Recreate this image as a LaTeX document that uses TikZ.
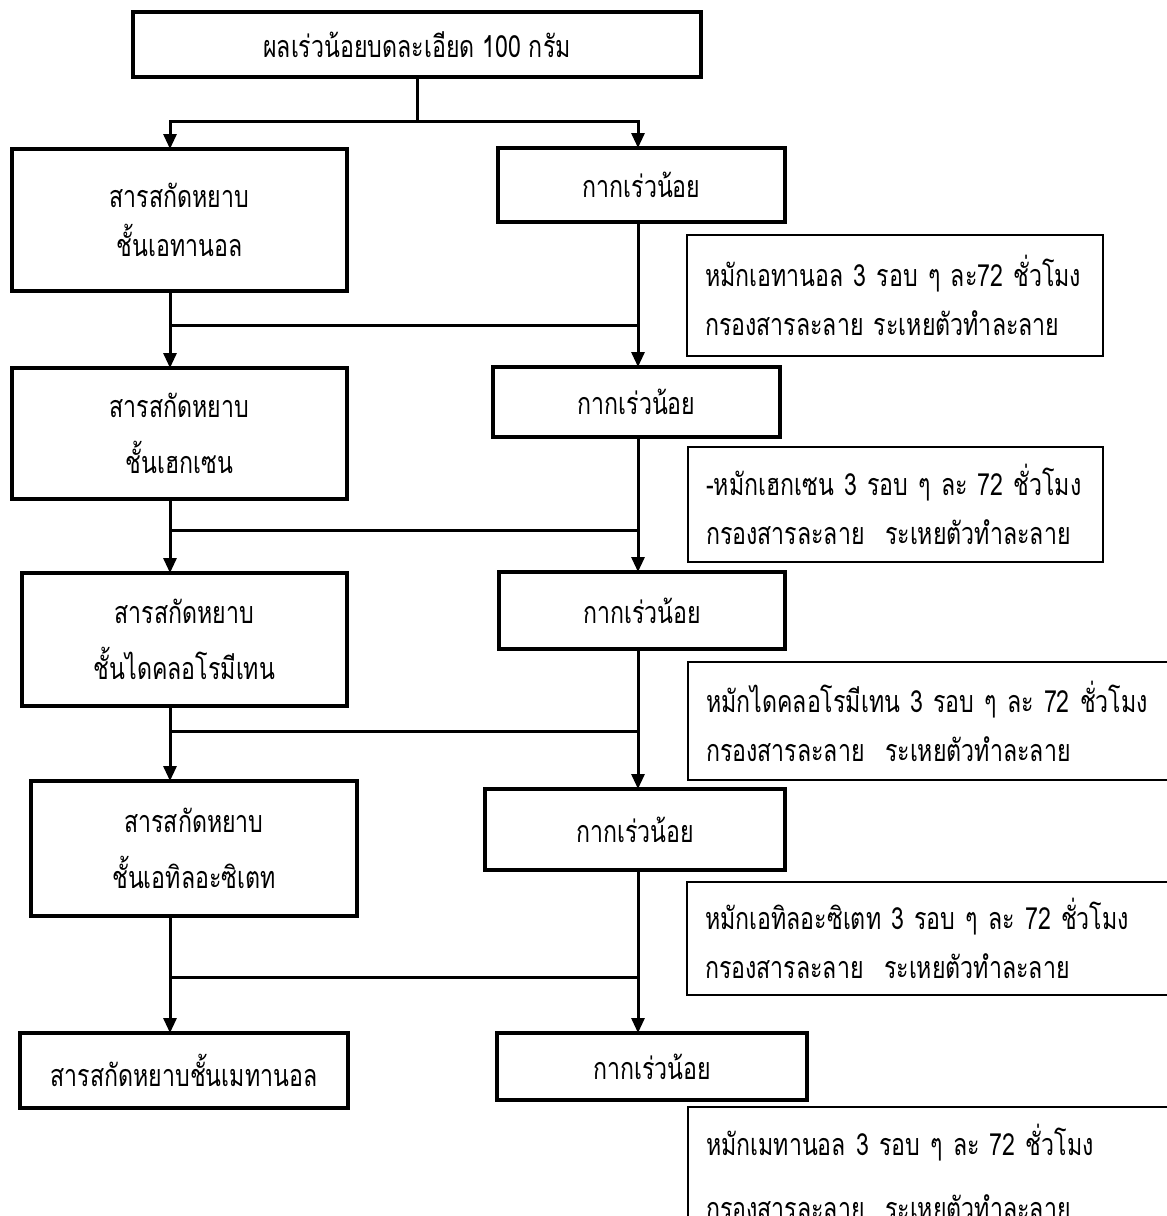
\documentclass[tikz,border=0pt]{standalone}
\usepackage{fontspec}
\newfontfamily\thai[Script=Thai,FakeStretch=0.76]{Loma}
\usetikzlibrary{arrows.meta}
\begin{document}
\begin{tikzpicture}[x=1pt,y=-1pt,
  box/.style={draw, line width=3.3pt, rectangle, anchor=north west, inner sep=0pt, outer sep=0pt,
    align=center, font=\thai\fontsize{30.5}{56}\selectfont},
  topbox/.style={box, line width=4pt},
  note/.style={draw, line width=1.2pt, rectangle, anchor=north west, inner xsep=18pt,
    inner ysep=0pt, outer sep=0pt, align=left, font=\thai\fontsize{30.5}{49}\selectfont},
  conn/.style={line width=3pt, line cap=rect},
  arr/.style={line width=3pt, -{Triangle[length=15pt,width=13pt]}}]
\useasboundingbox (0,0) rectangle (1167,1216);
\clip (0,0) rectangle (1167,1216);

% main boxes
\node[topbox, minimum width=568pt, minimum height=65pt] (T) at (133,12) {ผลเร่วน้อยบดละเอียด 100 กรัม};

\node[box, minimum width=335pt, minimum height=142pt, font=\thai\fontsize{30.5}{49}\selectfont] (L1) at (12,149) {สารสกัดหยาบ\\ชั้นเอทานอล};
\node[box, minimum width=335pt, minimum height=131pt] (L2) at (12,368) {สารสกัดหยาบ\\ชั้นเฮกเซน};
\node[box, minimum width=325pt, minimum height=133pt] (L3) at (22,573) {สารสกัดหยาบ\\ชั้นไดคลอโรมีเทน};
\node[box, minimum width=326pt, minimum height=135pt] (L4) at (31,781) {สารสกัดหยาบ\\ชั้นเอทิลอะซิเตท};
\node[box, minimum width=328pt, minimum height=75pt] (L5) at (20,1033) {สารสกัดหยาบชั้นเมทานอล};

\node[box, minimum width=287pt, minimum height=74pt] (R1) at (498,148) {กากเร่วน้อย};
\node[box, minimum width=287pt, minimum height=70pt] (R2) at (493,367) {กากเร่วน้อย};
\node[box, minimum width=286pt, minimum height=77pt] (R3) at (499,572) {กากเร่วน้อย};
\node[box, minimum width=300pt, minimum height=81pt] (R4) at (485,789) {กากเร่วน้อย};
\node[box, minimum width=310pt, minimum height=67pt] (R5) at (497,1033) {กากเร่วน้อย};

% notes
\node[note, text width=380pt, minimum height=121pt] (N1) at (687,235)
  {\mbox{หมักเอทานอล 3 รอบ ๆ ละ72 ชั่วโมง}\\\mbox{กรองสารละลาย ระเหยตัวทำละลาย}};
\node[note, text width=379pt, minimum height=115pt] (N2) at (688,447)
  {\mbox{-หมักเฮกเซน 3 รอบ ๆ ละ 72 ชั่วโมง}\\\mbox{กรองสารละลาย\ \ ระเหยตัวทำละลาย}};
\node[note, text width=464pt, minimum height=118pt] (N3) at (688,662)
  {\mbox{หมักไดคลอโรมีเทน 3 รอบ ๆ ละ 72 ชั่วโมง}\\\mbox{กรองสารละลาย\ \ ระเหยตัวทำละลาย}};
\node[note, text width=464pt, minimum height=113pt] (N4) at (687,882)
  {\mbox{หมักเอทิลอะซิเตท 3 รอบ ๆ ละ 72 ชั่วโมง}\\\mbox{กรองสารละลาย\ \ ระเหยตัวทำละลาย}};
\node[note, text width=464pt, minimum height=130pt, font=\thai\fontsize{30.5}{64}\selectfont] (N5) at (688,1107)
  {\mbox{หมักเมทานอล 3 รอบ ๆ ละ 72 ชั่วโมง}\\\mbox{กรองสารละลาย\ \ ระเหยตัวทำละลาย}};

% join points
\coordinate (a0) at (417,121);
\coordinate (a0l) at (170,121);
\coordinate (a0r) at (638,121);
\coordinate (j1l) at (170,325); \coordinate (j1r) at (638,325);
\coordinate (j2l) at (170,530); \coordinate (j2r) at (638,530);
\coordinate (j3l) at (170,731); \coordinate (j3r) at (638,731);
\coordinate (j4l) at (170,977); \coordinate (j4r) at (638,977);

% top split
\draw[conn] (T.south) -- (a0);
\draw[conn] (a0l) -- (a0r);
\draw[arr] (a0l) -- (a0l |- L1.north);
\draw[arr] (a0r) -- (a0r |- R1.north);

% stage 1
\draw[conn] (L1.south -| j1l) -- (j1l) -- (j1r);
\draw[arr] (j1l) -- (j1l |- L2.north);
\draw[arr] (R1.south -| j1r) -- (j1r |- R2.north);
% stage 2
\draw[conn] (L2.south -| j2l) -- (j2l) -- (j2r);
\draw[arr] (j2l) -- (j2l |- L3.north);
\draw[arr] (R2.south -| j2r) -- (j2r |- R3.north);
% stage 3
\draw[conn] (L3.south -| j3l) -- (j3l) -- (j3r);
\draw[arr] (j3l) -- (j3l |- L4.north);
\draw[arr] (R3.south -| j3r) -- (j3r |- R4.north);
% stage 4
\draw[conn] (L4.south -| j4l) -- (j4l) -- (j4r);
\draw[arr] (j4l) -- (j4l |- L5.north);
\draw[arr] (R4.south -| j4r) -- (j4r |- R5.north);
\end{tikzpicture}
\end{document}
